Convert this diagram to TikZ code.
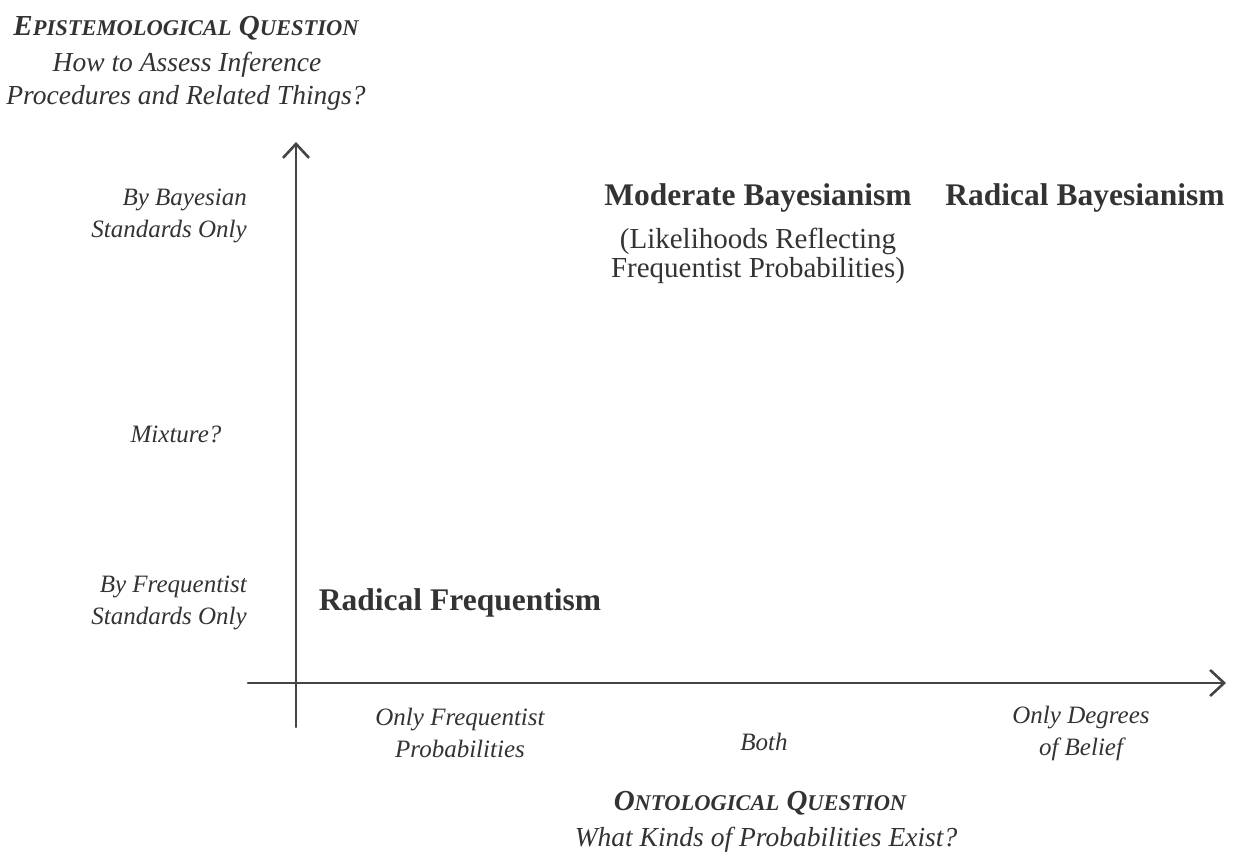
\documentclass[tikz,border=0pt]{standalone}
\usepackage{fontspec}
\setmainfont{Liberation Serif}
\usetikzlibrary{arrows.meta}
\definecolor{ink}{HTML}{333333}
\definecolor{axisc}{HTML}{444444}
\newcommand{\fakesc}[2]{#1{\fontsize{22.5}{26}\selectfont #2}}
\tikzset{
  axislabel/.style={text=ink, font=\fontsize{25}{32}\selectfont\itshape, inner sep=0pt},
  question/.style={text=ink, font=\fontsize{27.5}{33}\selectfont\itshape, inner sep=0pt},
  qtitle/.style={text=ink, font=\fontsize{29}{33}\selectfont\itshape\bfseries, inner sep=0pt},
  school/.style={text=ink, font=\fontsize{31.5}{35}\selectfont\bfseries, inner sep=0pt},
  note/.style={text=ink, font=\fontsize{29}{29}\selectfont, inner sep=0pt, align=center},
  axisline/.style={draw=axisc, line width=2.6pt, line cap=round,
    -{Straight Barb[length=14pt, width=26pt, line width=2.6pt]}},
}
\begin{document}
\begin{tikzpicture}[x=1pt, y=-1pt]
\useasboundingbox (0,0) rectangle (1236,861);
% axes
\coordinate (vbot) at (296,727);
\coordinate (vtop) at (296,142);
\coordinate (hleft) at (248,683);
\coordinate (hright) at (1226,683);
\draw[axisline] (vbot) -- (vtop);
\draw[axisline] (hleft) -- (hright);
% epistemological question
\node[qtitle] (epit) at (186,28) {\fakesc{E}{PISTEMOLOGICAL} \fakesc{Q}{UESTION}};
\node[question] (epi1) at (187,65) {How to Assess Inference};
\node[question] (epi2) at (186,98) {Procedures and Related Things?};
% y-axis labels
\node[axislabel, align=right, anchor=east] (ybayes) at (247,216) {By Bayesian\\Standards Only};
\node[axislabel] (ymix) at (176,434) {Mixture?};
\node[axislabel, align=right, anchor=east] (yfreq) at (247,603) {By Frequentist\\Standards Only};
% schools
\node[school] (modb) at (758,198) {Moderate Bayesianism};
\node[note] (modbn) at (758,256) {(Likelihoods Reflecting\\Frequentist Probabilities)};
\node[school] (radb) at (1085,198) {Radical Bayesianism};
\node[school] (radf) at (460,603) {Radical Frequentism};
% x-axis labels
\node[axislabel, align=center] (xfreq) at (460,733) {Only Frequentist\\Probabilities};
\node[axislabel] (xboth) at (764,742) {Both};
\node[axislabel, align=center] (xdeg) at (1081,733) {Only Degrees\\of Belief};
% ontological question
\node[qtitle] (ontt) at (760,803) {\fakesc{O}{NTOLOGICAL} \fakesc{Q}{UESTION}};
\node[question] (ont1) at (766,840) {What Kinds of Probabilities Exist?};
\end{tikzpicture}
\end{document}
